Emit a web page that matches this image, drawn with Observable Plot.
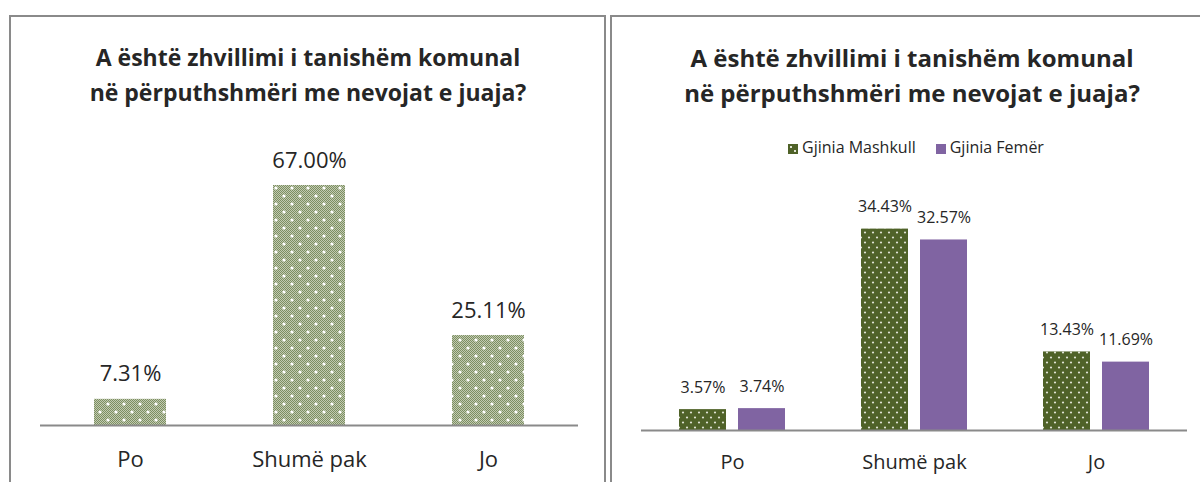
<!DOCTYPE html>
<html><head><meta charset="utf-8">
<script src="https://cdn.jsdelivr.net/npm/d3@7"></script>
<script src="https://cdn.jsdelivr.net/npm/@observablehq/plot@0.6"></script>
<style>
body{margin:0;width:1200px;height:482px;overflow:hidden;background:#fff;font-family:"Open Sans",sans-serif;position:relative;color:#262626}
.panel{position:absolute;top:15px;height:480px;border:2px solid #8a8a8a;border-bottom:none;box-sizing:border-box}
.title{position:absolute;top:40px;font-weight:bold;text-align:center;line-height:35px;white-space:nowrap}
.plot{position:absolute;top:120px}
.legend{position:absolute;top:137px;left:700px;width:432px;display:flex;justify-content:center;gap:20px;font-size:16px;line-height:20px}
.legend span.sw{display:inline-block;width:10px;height:10px;margin-right:4px;vertical-align:-1px}
</style></head>
<body>
<div class="panel" style="left:9px;width:597px"></div>
<div class="panel" style="left:610px;width:620px;border-right:none"></div>
<div class="title" id="t1" style="left:0;width:616px;font-size:23px"></div>
<div class="title" id="t2" style="left:600px;width:624px;font-size:24px"></div>
<div class="plot" id="p1" style="left:0"></div>
<div class="plot" id="p2" style="left:600px"></div>
<div class="legend" id="lg"></div>
<script>
const titleLines = ["A është zhvillimi i tanishëm komunal", "në përputhshmëri me nevojat e juaja?"];
const categories = ["Po", "Shumë pak", "Jo"];
const totalValues = [7.31, 67.00, 25.11];
const series = ["Gjinia Mashkull", "Gjinia Femër"];
const maleValues = [3.57, 34.43, 13.43];
const femaleValues = [3.74, 32.57, 11.69];

const pct = d => d.v.toFixed(2) + "%";

document.getElementById("t1").innerHTML = titleLines.join("<br>");
document.getElementById("t2").innerHTML = titleLines.join("<br>");

const leftData = categories.map((c, i) => ({cat: c, v: totalValues[i]}));
const rightData = [];
categories.forEach((c, i) => {
  rightData.push({cat: c, s: series[0], v: maleValues[i]});
  rightData.push({cat: c, s: series[1], v: femaleValues[i]});
});

const defs = `<defs>
<pattern id="chk" width="2" height="2" patternUnits="userSpaceOnUse">
<rect width="2" height="2" fill="#c2cab2"/><rect width="1" height="1" fill="#7c8f61"/><rect x="1" y="1" width="1" height="1" fill="#7c8f61"/>
</pattern>
<pattern id="lightDots" width="16" height="16" patternUnits="userSpaceOnUse">
<rect width="16" height="16" fill="url(#chk)"/>
<circle cx="4" cy="4" r="1.6" fill="#ffffff"/><circle cx="12" cy="12" r="1.6" fill="#ffffff"/>
</pattern>
<pattern id="darkDots" width="8" height="10" patternUnits="userSpaceOnUse">
<rect width="8" height="10" fill="#4f6228"/>
<circle cx="2" cy="2.5" r="1.1" fill="#dfe3d4"/><circle cx="6" cy="7.5" r="1.1" fill="#dfe3d4"/>
</pattern>
</defs>`;

const p1 = Plot.plot({
  width: 600, height: 362,
  marginLeft: 40, marginRight: 22, marginTop: 65, marginBottom: 57,
  style: {fontFamily: "'Open Sans', sans-serif", color: "#262626", background: "transparent"},
  x: {domain: categories, paddingInner: 0.6, paddingOuter: 0.3, label: null},
  y: {domain: [0, 67], axis: null},
  marks: [
    Plot.barY(leftData, {x: "cat", y: "v", fill: "url(#lightDots)"}),
    Plot.ruleY([0], {stroke: "#8a8a8a", strokeWidth: 2}),
    Plot.text(leftData, {x: "cat", y: "v", text: pct, dy: -25, fontSize: 22, fill: "#262626"}),
    Plot.axisX({tickSize: 0, tickPadding: 26, fontSize: 22, label: null, fill: "#262626"})
  ]
});
p1.insertAdjacentHTML("afterbegin", defs);
document.getElementById("p1").appendChild(p1);

const p2 = Plot.plot({
  width: 600, height: 362,
  marginLeft: 40, marginRight: 13, marginTop: 76, marginBottom: 52,
  style: {fontFamily: "'Open Sans', sans-serif", color: "#262626", background: "transparent"},
  fx: {domain: categories, padding: 0, label: null},
  x: {domain: series, paddingInner: 0.2, paddingOuter: 0.62, axis: null},
  y: {domain: [0, 40], axis: null},
  color: {domain: series, range: ["url(#darkDots)", "#8064a2"]},
  marks: [
    Plot.barY(rightData, {fx: "cat", x: "s", y: "v", fill: "s"}),
    Plot.ruleY([0], {stroke: "#8a8a8a", strokeWidth: 2}),
    Plot.text(rightData, {fx: "cat", x: "s", y: "v", text: pct, dy: -22, fontSize: 16, fill: "#262626"}),
    Plot.axisFx({anchor: "bottom", tickSize: 0, tickPadding: 24, fontSize: 20, label: null, fill: "#262626"})
  ]
});
document.getElementById("p2").appendChild(p2);

const lg = document.getElementById("lg");
const swatches = ["background:#4f6228;background-image:radial-gradient(circle at 30% 30%, #dfe3d4 1px, transparent 1.5px),radial-gradient(circle at 70% 70%, #dfe3d4 1px, transparent 1.5px)", "background:#8064a2"];
series.forEach((s, i) => {
  const item = document.createElement("div");
  item.innerHTML = `<span class="sw" style="${swatches[i]}"></span>${s}`;
  lg.appendChild(item);
});
</script>
</body></html>
